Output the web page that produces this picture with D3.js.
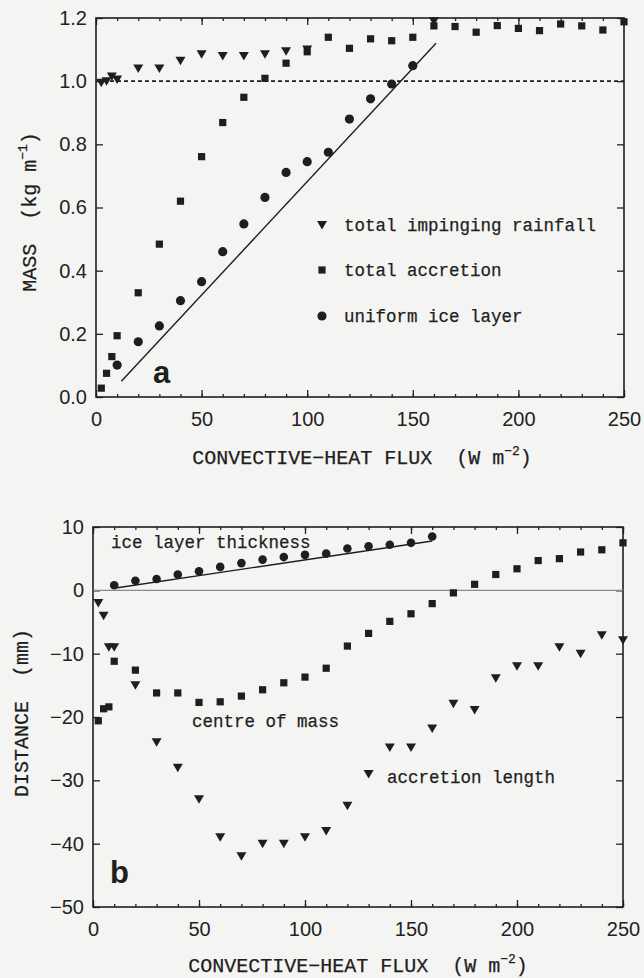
<!DOCTYPE html>
<html>
<head>
<meta charset="utf-8">
<script src="https://cdn.jsdelivr.net/npm/d3@7"></script>
<style>
body { margin: 0; background: #f4f5f3; }
svg { display: block; }
.tick text { font-family: "Liberation Sans", Arial, sans-serif; font-size: 20px; fill: #222; }
.tick line { stroke: #222; stroke-width: 1.3; }
.mono { font-family: "Liberation Mono", "Courier New", monospace; fill: #1e1e1e; stroke: #1e1e1e; stroke-width: 0.25; white-space: pre; }
.big { font-family: "Liberation Sans", Arial, sans-serif; font-weight: bold; font-size: 31px; fill: #1e1e1e; }
</style>
</head>
<body>
<script>
// ---- panel a : mass ----
var rainX = [2.5, 5, 7.5, 10, 20, 30, 40, 50, 60, 70, 80, 90, 100, 160];
var rain  = [0.995, 1.0, 1.015, 1.005, 1.04, 1.04, 1.065, 1.085, 1.08, 1.08, 1.085, 1.095, 1.10, 1.19];

var accX = [2.5, 5, 7.5, 10, 20, 30, 40, 50, 60, 70, 80, 90, 100, 110, 120, 130, 140, 150,
            160, 170, 180, 190, 200, 210, 220, 230, 240, 250];
var accretion = [0.028, 0.075, 0.128, 0.194, 0.33, 0.484, 0.62, 0.761, 0.869, 0.949, 1.009, 1.057, 1.093,
                 1.139, 1.104, 1.134, 1.128, 1.139, 1.175, 1.173, 1.155, 1.176, 1.167, 1.16, 1.181,
                 1.175, 1.162, 1.188];

var iceX = [10, 20, 30, 40, 50, 60, 70, 80, 90, 100, 110, 120, 130, 140, 150];
var iceMass = [0.101, 0.175, 0.225, 0.305, 0.365, 0.46, 0.548, 0.632, 0.711, 0.745, 0.775, 0.88,
               0.944, 0.991, 1.049];

var fitA = [[12, 0.05], [161, 1.12]];
var refA = [[0, 1.0], [250, 1.0]];

// ---- panel b : distance ----
var thickX = [10, 20, 30, 40, 50, 60, 70, 80, 90, 100, 110, 120, 130, 140, 150, 160];
var thickness = [0.8, 1.5, 1.8, 2.5, 3.0, 3.7, 4.3, 4.85, 5.25, 5.6, 5.8, 6.6, 6.95, 7.2, 7.5, 8.5];

var comX = accX;
var centreMass = [-20.6, -18.7, -18.4, -11.2, -12.6, -16.2, -16.2, -17.7, -17.6, -16.7, -15.7, -14.6,
                  -13.7, -12.3, -8.8, -6.8, -4.9, -3.7, -2.1, -0.4, 0.95, 2.5, 3.4, 4.7, 5.0, 6.05,
                  6.4, 7.5];
var accLength = [-2, -4, -9, -9, -15, -24, -28, -33, -39, -42, -40, -40, -39, -38, -34, -29, -24.8,
                 -24.8, -21.8, -17.9, -18.9, -13.9, -12, -12, -9, -10, -7.1, -7.9];

var fitB = [[11.5, 0.4], [160, 7.8]];
var zeroB = [[0, 0], [250, 0]];

var xMajor = [0, 50, 100, 150, 200, 250];
var xMinor = d3.range(0, 251, 10);
var yMajorA = [0, 0.2, 0.4, 0.6, 0.8, 1.0, 1.2];
var yMajorB = [-50, -40, -30, -20, -10, 0, 10];

var w = 644, h = 978;
var svg = d3.select('body').append('svg')
	.attr('width', w)
	.attr('height', h);

var ink = '#1e1e1e';

var xA = d3.scaleLinear().domain([0, 250]).range([96, 624]);
var yA = d3.scaleLinear().domain([0, 1.2]).range([397, 18]);
var xB = d3.scaleLinear().domain([0, 250]).range([93, 623]);
var yB = d3.scaleLinear().domain([-50, 10]).range([907, 527]);

var tri = 'M-5,-4L5,-4L0,4.5Z';
var sq = d3.symbol(d3.symbolSquare, 52)();

function frame(x, y, yTicks, fmt) {
	var x0 = x.range()[0], x1 = x.range()[1], y0 = y.range()[0], y1 = y.range()[1];
	var g = svg.append('g');

	g.append('g').attr('transform', 'translate(0,' + y0 + ')')
		.call(d3.axisBottom(x).tickValues(xMinor).tickSizeInner(-3).tickSizeOuter(0).tickFormat(''));
	g.append('g').attr('transform', 'translate(0,' + y1 + ')')
		.call(d3.axisTop(x).tickValues(xMinor).tickSizeInner(-3).tickSizeOuter(0).tickFormat(''));
	g.append('g').attr('transform', 'translate(0,' + y0 + ')')
		.call(d3.axisBottom(x).tickValues(xMajor).tickSizeInner(-7).tickSizeOuter(0).tickPadding(15));
	g.append('g').attr('transform', 'translate(0,' + y1 + ')')
		.call(d3.axisTop(x).tickValues(xMajor).tickSizeInner(-7).tickSizeOuter(0).tickFormat(''));
	g.append('g').attr('transform', 'translate(' + x0 + ',0)')
		.call(d3.axisLeft(y).tickValues(yTicks).tickSizeInner(-7).tickSizeOuter(0).tickPadding(9).tickFormat(fmt));
	g.append('g').attr('transform', 'translate(' + x1 + ',0)')
		.call(d3.axisRight(y).tickValues(yTicks).tickSizeInner(-7).tickSizeOuter(0).tickFormat(''));

	g.selectAll('.domain').remove();
	g.append('rect')
		.attr('x', x0).attr('y', y1)
		.attr('width', x1 - x0).attr('height', y0 - y1)
		.attr('fill', 'none').attr('stroke', ink).attr('stroke-width', 1.6);
}

function triangles(x, y, xs, ys) {
	svg.append('g').selectAll('path').data(xs).enter().append('path')
		.attr('d', tri)
		.attr('fill', ink)
		.attr('transform', function(d, i) { return 'translate(' + x(d) + ',' + y(ys[i]) + ')'; });
}

function squares(x, y, xs, ys) {
	svg.append('g').selectAll('path').data(xs).enter().append('path')
		.attr('d', sq)
		.attr('fill', ink)
		.attr('transform', function(d, i) { return 'translate(' + x(d) + ',' + y(ys[i]) + ')'; });
}

function dots(x, y, xs, ys, r) {
	svg.append('g').selectAll('circle').data(xs).enter().append('circle')
		.attr('cx', function(d) { return x(d); })
		.attr('cy', function(d, i) { return y(ys[i]); })
		.attr('r', r)
		.attr('fill', ink);
}

function title(x, y, rot, main, sup, size) {
	var t = svg.append('text')
		.attr('class', 'mono')
		.attr('text-anchor', 'middle')
		.attr('font-size', size)
		.attr('transform', 'translate(' + x + ',' + y + ')rotate(' + rot + ')');
	t.append('tspan').text(main);
	if (sup) {
		t.append('tspan').attr('dy', -9).attr('font-size', size * 0.65).text(sup);
		t.append('tspan').attr('dy', 9).text(')');
	}
}

// ---- panel a
frame(xA, yA, yMajorA, d3.format('.1f'));

var line = function(x, y) {
	return d3.line().x(function(d) { return x(d[0]); }).y(function(d) { return y(d[1]); });
};

svg.append('path').attr('d', line(xA, yA)(refA))
	.attr('fill', 'none').attr('stroke', ink).attr('stroke-width', 1.6).attr('stroke-dasharray', '4,3');
svg.append('path').attr('d', line(xA, yA)(fitA))
	.attr('fill', 'none').attr('stroke', ink).attr('stroke-width', 1.4);

triangles(xA, yA, rainX, rain);
squares(xA, yA, accX, accretion);
dots(xA, yA, iceX, iceMass, 4.6);

// legend
var legend = [
	{ label: 'total impinging rainfall', y: 225, mark: 'tri' },
	{ label: 'total accretion', y: 270, mark: 'sq' },
	{ label: 'uniform ice layer', y: 316, mark: 'dot' }
];
var lg = svg.append('g');
legend.forEach(function(d) {
	if (d.mark == 'dot')
		lg.append('circle').attr('cx', 322).attr('cy', d.y).attr('r', 4.6).attr('fill', ink);
	else
		lg.append('path').attr('d', d.mark == 'tri' ? tri : sq).attr('fill', ink)
			.attr('transform', 'translate(322,' + d.y + ')');
	lg.append('text').attr('class', 'mono').attr('font-size', 17.5)
		.attr('x', 344).attr('y', d.y + 6).text(d.label);
});

svg.append('text').attr('class', 'big').attr('x', 153).attr('y', 383).text('a');

title(362, 464, 0, 'CONVECTIVE\u2212HEAT FLUX  (W m', '\u22122', 20);
title(36, 212, -90, 'MASS  (kg m', '\u22121', 20);

// ---- panel b
frame(xB, yB, yMajorB, d3.format('d'));

svg.append('path').attr('d', line(xB, yB)(zeroB))
	.attr('fill', 'none').attr('stroke', '#8a8a8a').attr('stroke-width', 1.2);
svg.append('path').attr('d', line(xB, yB)(fitB))
	.attr('fill', 'none').attr('stroke', ink).attr('stroke-width', 1.4);

dots(xB, yB, thickX, thickness, 4.3);
squares(xB, yB, comX, centreMass);
triangles(xB, yB, comX, accLength);

svg.append('text').attr('class', 'mono').attr('font-size', 17.5).attr('x', 111).attr('y', 548).text('ice layer thickness');
svg.append('text').attr('class', 'mono').attr('font-size', 17.5).attr('x', 192).attr('y', 727).text('centre of mass');
svg.append('text').attr('class', 'mono').attr('font-size', 17.5).attr('x', 387).attr('y', 783).text('accretion length');

svg.append('text').attr('class', 'big').attr('x', 110).attr('y', 883).text('b');

title(358, 972, 0, 'CONVECTIVE\u2212HEAT FLUX  (W m', '\u22122', 20);
title(28, 713, -90, 'DISTANCE  (mm)', null, 20);
</script>
</body>
</html>
